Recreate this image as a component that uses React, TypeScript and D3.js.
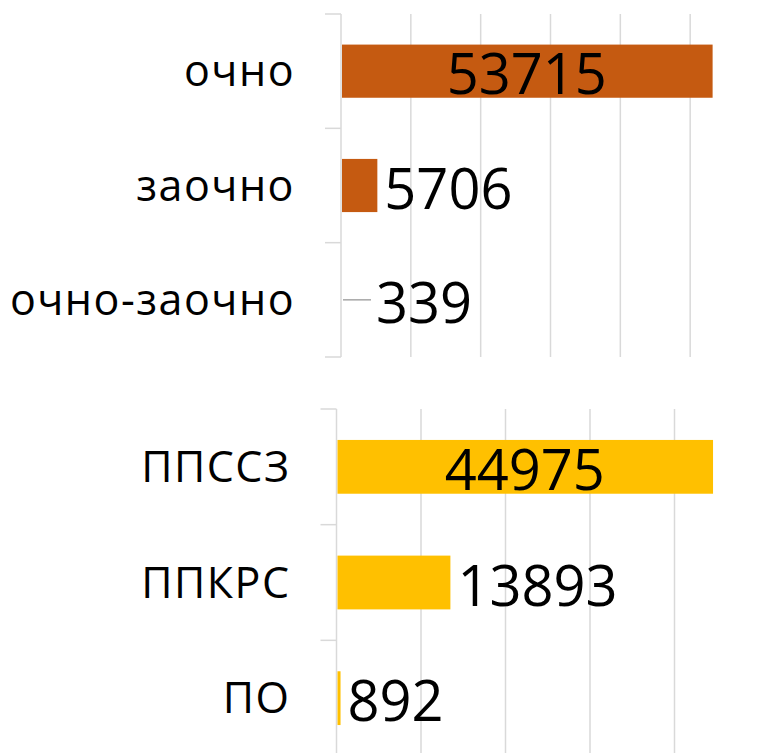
import React, { useRef, useEffect } from "react";
import * as d3 from "d3";

// форма обучения
const formCategories = ["очно", "заочно", "очно-заочно"];
const formValues = [53715, 5706, 339];

// тип программы
const programCategories = ["ППССЗ", "ППКРС", "ПО"];
const programValues = [44975, 13893, 892];

const gridTicksTop = [0, 10000, 20000, 30000, 40000, 50000, 60000];
const gridTicksBottom = [0, 10000, 20000, 30000, 40000, 50000];

const width = 757;
const height = 753;
const font = "'Open Sans', 'DejaVu Sans', sans-serif";

type Panel = {
    cats: string[];
    vals: number[];
    ticks: number[];
    xDomain: [number, number];
    xRange: [number, number];
    yRange: [number, number];
    color: string;
};

const drawPanel = (svg: any, p: Panel) => {
    const x = d3.scaleLinear().domain(p.xDomain).range(p.xRange);
    const y = d3.scaleBand<string>().domain(p.cats).range(p.yRange).padding(0);
    const step = y.step();
    const barH = step * 0.465;
    const x0 = x(0);
    // excel draws the bars a little short of the value
    const barEnd = (v: number) => Math.max(x0 + 1, x(v) - 3.5);
    const g = svg.append("g");

    // gridlines
    g.selectAll("line.grid")
        .data(p.ticks.filter(t => t > 0))
        .enter()
        .append("line")
        .attr("class", "grid")
        .attr("x1", d => x(d))
        .attr("x2", d => x(d))
        .attr("y1", p.yRange[0])
        .attr("y2", p.yRange[1])
        .attr("stroke", "#d9d9d9")
        .attr("stroke-width", 1.5);

    // axis line + category ticks
    g.append("line")
        .attr("x1", x0).attr("x2", x0)
        .attr("y1", p.yRange[0]).attr("y2", p.yRange[1])
        .attr("stroke", "#d9d9d9")
        .attr("stroke-width", 1.5);
    const bounds = p.cats.map(c => y(c) as number).concat([p.yRange[1]]);
    g.selectAll("line.tick")
        .data(bounds)
        .enter()
        .append("line")
        .attr("class", "tick")
        .attr("x1", x0 - 16).attr("x2", x0)
        .attr("y1", d => d).attr("y2", d => d)
        .attr("stroke", "#d9d9d9")
        .attr("stroke-width", 1.5);

    const rows = p.cats.map((c, i) => ({ c, v: p.vals[i] }));

    // bars
    g.selectAll("rect.bar")
        .data(rows)
        .enter()
        .append("rect")
        .attr("class", "bar")
        .attr("x", x0 + 1)
        .attr("y", d => (y(d.c) as number) + (step - barH) / 2)
        .attr("width", d => barEnd(d.v) - x0 - 1)
        .attr("height", barH)
        .attr("fill", p.color);

    // category labels
    g.selectAll("text.cat")
        .data(rows)
        .enter()
        .append("text")
        .attr("class", "cat")
        .attr("x", x0 - 46)
        .attr("y", d => (y(d.c) as number) + step / 2 + 15)
        .attr("text-anchor", "end")
        .attr("font-family", font)
        .attr("font-size", 43)
        .attr("letter-spacing", 1.5)
        .attr("fill", "#000")
        .text(d => d.c);

    // value labels
    const maxV = d3.max(p.vals) as number;
    rows.forEach(d => {
        const cy = (y(d.c) as number) + step / 2;
        const end = barEnd(d.v);
        const t = g.append("text")
            .attr("y", cy + 23)
            .attr("font-family", font)
            .attr("font-size", 56)
            .attr("fill", "#000")
            .text(d.v);
        if (d.v === maxV) {
            t.attr("x", (x0 + end) / 2).attr("text-anchor", "middle");
        } else if (end - x0 < 3) {
            g.append("line")
                .attr("x1", x0 + 2).attr("x2", x0 + 30)
                .attr("y1", cy).attr("y2", cy)
                .attr("stroke", "#a6a6a6")
                .attr("stroke-width", 1.5);
            t.attr("x", x0 + 35);
        } else {
            t.attr("x", end + 7);
        }
    });
};

const App = () => {
    const d3Ref = useRef<HTMLDivElement>(null);

    useEffect(() => {
        document.body.style.margin = "0";
        const root = d3.select(d3Ref.current);
        root.selectAll("*").remove();
        const svg = root.append("svg")
            .attr("width", width)
            .attr("height", height)
            .style("display", "block")
            .style("background", "#fff");

        drawPanel(svg, {
            cats: formCategories,
            vals: formValues,
            ticks: gridTicksTop,
            xDomain: [0, 60000],
            xRange: [341, 760],
            yRange: [14, 357],
            color: "#c55a11",
        });

        drawPanel(svg, {
            cats: programCategories,
            vals: programValues,
            ticks: gridTicksBottom,
            xDomain: [0, 50000],
            xRange: [336.5, 759],
            yRange: [409, 756],
            color: "#ffc000",
        });
    }, []);

    return <div ref={d3Ref} />;
};

export default App;
